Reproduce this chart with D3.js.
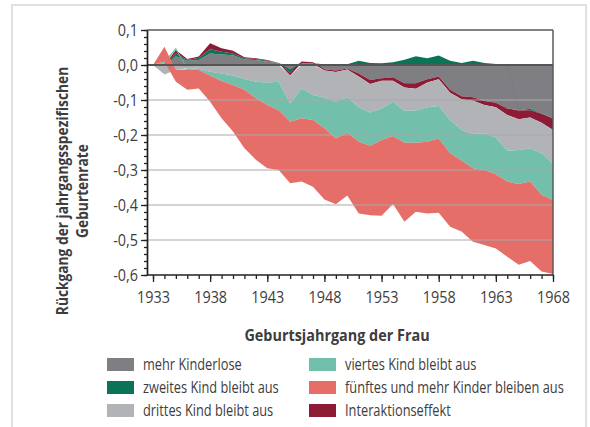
<!DOCTYPE html>
<html>
<head>
<meta charset="utf-8">
<script src="https://cdn.jsdelivr.net/npm/d3@7"></script>
<style>
  body { margin: 0; background: #fff; }
  text { font-family: "Open Sans", "Noto Sans", sans-serif; fill: #3d3d3d; }
</style>
</head>
<body>
<div id="chart"></div>
<script>
// Geburtsjahrgänge 1933–1968
const years = [1933, 1934, 1935, 1936, 1937, 1938, 1939, 1940, 1941, 1942, 1943, 1944,
  1945, 1946, 1947, 1948, 1949, 1950, 1951, 1952, 1953, 1954, 1955, 1956,
  1957, 1958, 1959, 1960, 1961, 1962, 1963, 1964, 1965, 1966, 1967, 1968];

// Beiträge zum Rückgang, je Komponente
const kinderlose = [0, 0.004, 0.025, 0.012, 0.014, 0.033, 0.030, 0.028, 0.016, 0.014, 0.010, 0.004,
  -0.012, 0.005, 0.004, -0.012, -0.016, -0.010, -0.024, -0.043, -0.038, -0.035, -0.052, -0.052,
  -0.041, -0.033, -0.071, -0.089, -0.092, -0.103, -0.108, -0.124, -0.129, -0.125, -0.138, -0.152];
const zweites = [0, 0, 0.008, 0.003, 0.006, 0.012, 0.008, 0.005, 0.003, 0.003, 0.002, 0.001,
  -0.010, 0.001, 0.001, 0.002, 0.001, 0.002, 0.012, 0.006, 0.005, 0.008, 0.015, 0.025,
  0.019, 0.027, 0.012, 0.006, 0.012, 0.006, 0.003, 0.002, -0.001, -0.004, -0.001, -0.001];
const interaktion = [0, 0, 0.010, 0.002, 0.004, 0.017, 0.010, 0.008, 0.003, 0.002, 0.002, 0.001,
  -0.008, 0.004, 0.003, -0.004, -0.004, -0.003, -0.009, -0.011, -0.007, -0.010, -0.012, -0.016,
  -0.009, -0.008, -0.008, -0.009, -0.010, -0.011, -0.013, -0.019, -0.025, -0.021, -0.026, -0.033];
const drittes = [0, -0.027, -0.014, -0.009, -0.011, -0.019, -0.024, -0.030, -0.040, -0.048, -0.050, -0.048,
  -0.080, -0.067, -0.086, -0.077, -0.085, -0.079, -0.088, -0.082, -0.079, -0.060, -0.067, -0.062,
  -0.071, -0.076, -0.078, -0.088, -0.095, -0.081, -0.086, -0.102, -0.088, -0.088, -0.087, -0.097];
const viertes = [0, 0.006, 0.006, -0.003, -0.003, -0.011, -0.022, -0.027, -0.031, -0.047, -0.064, -0.081,
  -0.052, -0.085, -0.071, -0.088, -0.105, -0.101, -0.098, -0.095, -0.090, -0.098, -0.091, -0.092,
  -0.098, -0.093, -0.095, -0.087, -0.098, -0.105, -0.105, -0.088, -0.097, -0.095, -0.119, -0.103];
const fuenftes = [0, 0.042, -0.034, -0.059, -0.053, -0.075, -0.106, -0.133, -0.167, -0.176, -0.181, -0.171,
  -0.176, -0.181, -0.191, -0.203, -0.188, -0.180, -0.205, -0.198, -0.217, -0.194, -0.226, -0.197,
  -0.205, -0.212, -0.210, -0.203, -0.210, -0.214, -0.212, -0.215, -0.231, -0.227, -0.219, -0.211];

const yTicks = [0.1, 0, -0.1, -0.2, -0.3, -0.4, -0.5, -0.6];
const xTicks = [1933, 1938, 1943, 1948, 1953, 1958, 1963, 1968];

const series = [
  { key: "kinderlose", label: "mehr Kinderlose", values: kinderlose, color: "#7f7f83" },
  { key: "zweites", label: "zweites Kind bleibt aus", values: zweites, color: "#0b7458" },
  { key: "drittes", label: "drittes Kind bleibt aus", values: drittes, color: "#b2b3b6" },
  { key: "viertes", label: "viertes Kind bleibt aus", values: viertes, color: "#72bfab" },
  { key: "fuenftes", label: "fünftes und mehr Kinder bleiben aus", values: fuenftes, color: "#e56e68" },
  { key: "interaktion", label: "Interaktionseffekt", values: interaktion, color: "#8d1b35" }
];
// stacking order away from zero
const stackKeys = ["kinderlose", "zweites", "interaktion", "drittes", "viertes", "fuenftes"];

const width = 590;
const height = 427;

const svg = d3.select("#chart").append("svg")
  .attr("width", width)
  .attr("height", height);

// outer frame
svg.append("rect")
  .attr("x", 12).attr("y", 5)
  .attr("width", 574).attr("height", 440)
  .attr("fill", "#fff")
  .attr("stroke", "#e2e2dc")
  .attr("stroke-width", 2);

const x = d3.scaleLinear().domain([1933, 1968]).range([153, 553]);
const y = d3.scaleLinear().domain([-0.6, 0.1]).range([275, 30]);
const left = 147, right = 553;

const table = years.map((yr, i) => {
  const row = { year: yr };
  series.forEach(s => row[s.key] = s.values[i]);
  return row;
});

const stacked = d3.stack()
  .keys(stackKeys)
  .offset(d3.stackOffsetDiverging)(table);

const color = Object.fromEntries(series.map(s => [s.key, s.color]));

const area = d3.area()
  .x(d => x(d.data.year))
  .y0(d => y(d[0]))
  .y1(d => y(d[1]));

svg.append("g")
  .selectAll("path")
  .data(stacked)
  .join("path")
    .attr("fill", d => color[d.key])
    .attr("d", area);

// grid lines on top of the areas
svg.append("g")
  .selectAll("line")
  .data(yTicks.filter(v => v < 0 && v > -0.6))
  .join("line")
    .attr("x1", left).attr("x2", right)
    .attr("y1", d => y(d)).attr("y2", d => y(d))
    .attr("stroke", "#a9a9a9")
    .attr("stroke-width", 1);

// frame lines
svg.append("line").attr("x1", left).attr("x2", right).attr("y1", y(0.1)).attr("y2", y(0.1))
  .attr("stroke", "#5a5a5a").attr("stroke-width", 1.5);
svg.append("line").attr("x1", right).attr("x2", right).attr("y1", y(0.1)).attr("y2", y(-0.6))
  .attr("stroke", "#5a5a5a").attr("stroke-width", 1.5);
svg.append("line").attr("x1", left).attr("x2", right).attr("y1", y(0)).attr("y2", y(0))
  .attr("stroke", "#555").attr("stroke-width", 2);
svg.append("line").attr("x1", left).attr("x2", right).attr("y1", y(-0.6)).attr("y2", y(-0.6))
  .attr("stroke", "#222").attr("stroke-width", 1.5);

const fmt = v => (v < -1e-9 ? "-" : "") + Math.abs(v).toFixed(1).replace(".", ",");

// y axis: minor ticks every 0.02
const yMinor = d3.range(-30, 6).map(i => i * 0.02);
svg.append("g")
  .attr("transform", `translate(${left},0)`)
  .call(d3.axisLeft(y).tickValues(yMinor).tickSize(3).tickSizeOuter(0).tickFormat(""))
  .call(g => g.selectAll("line,path").attr("stroke", "#222").attr("stroke-width", 1.3));
svg.append("g")
  .attr("transform", `translate(${left},0)`)
  .call(d3.axisLeft(y).tickValues(yTicks).tickSize(6).tickSizeOuter(0).tickFormat(fmt))
  .call(g => g.select(".domain").attr("stroke", "#222").attr("stroke-width", 1.5))
  .call(g => g.selectAll("line").attr("stroke", "#222").attr("stroke-width", 1.3))
  .call(g => g.selectAll("text")
    .attr("x", -10)
    .attr("fill", "#3d3d3d")
    .style("font-family", "Open Sans")
    .style("font-size", "16px")
    .attr("transform", "scale(0.9,1)"));

// x axis: minor ticks every year
svg.append("g")
  .attr("transform", `translate(0,${y(-0.6)})`)
  .call(d3.axisBottom(x).tickValues(years).tickSize(4).tickSizeOuter(0).tickFormat(""))
  .call(g => g.select(".domain").remove())
  .call(g => g.selectAll("line").attr("stroke", "#222").attr("stroke-width", 1.3));
svg.append("g")
  .attr("transform", `translate(0,${y(-0.6)})`)
  .call(d3.axisBottom(x).tickValues(xTicks).tickSize(7).tickSizeOuter(0).tickFormat(d => d))
  .call(g => g.select(".domain").remove())
  .call(g => g.selectAll("line").attr("stroke", "#222").attr("stroke-width", 1.3))
  .call(g => g.selectAll("text")
    .attr("y", 17)
    .attr("fill", "#3d3d3d")
    .style("font-family", "Open Sans")
    .style("font-size", "16px")
    .attr("transform", "scale(0.9,1)"));

// axis titles
function label(px, py, txt, opt) {
  const o = Object.assign({ size: 16, sx: 0.8, rot: 0, anchor: "start", weight: 400, fill: "#3d3d3d" }, opt);
  return svg.append("text")
    .attr("transform", `translate(${px},${py}) rotate(${o.rot}) scale(${o.sx},1)`)
    .attr("text-anchor", o.anchor)
    .style("font-size", o.size + "px")
    .style("font-weight", o.weight)
    .attr("fill", o.fill)
    .text(txt);
}

label(337, 341, "Geburtsjahrgang der Frau", { anchor: "middle", weight: 700, sx: 0.9, fill: "#4a4a4a" });
label(68, 191, "Rückgang der jahrgangsspezifischen", { anchor: "middle", weight: 700, rot: -90, sx: 0.86, fill: "#4a4a4a" });
label(88, 191, "Geburtenrate", { anchor: "middle", weight: 700, rot: -90, sx: 0.86, fill: "#4a4a4a" });

// legend
const legendCols = [107, 309];
const legendRows = [365, 388, 411];
const legend = svg.append("g");
series.forEach((s, i) => {
  const lx = legendCols[Math.floor(i / 3)];
  const ly = legendRows[i % 3];
  legend.append("rect")
    .attr("x", lx).attr("y", ly - 7)
    .attr("width", 27).attr("height", 13)
    .attr("fill", s.color);
  label(lx + 36, ly + 5, s.label, { sx: 0.8 });
});
</script>
</body>
</html>
